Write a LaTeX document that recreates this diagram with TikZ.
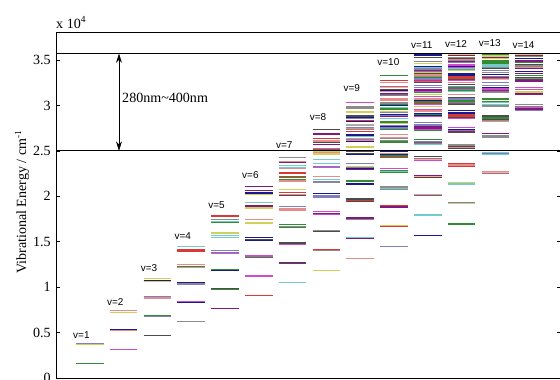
\documentclass[tikz,border=0pt]{standalone}
\usepackage{fontspec}
\setmainfont{Liberation Serif}
\setsansfont{Liberation Sans}
\usepackage{tikz}
\usetikzlibrary{arrows.meta,positioning,calc}

\definecolor{lc0}{rgb}{0.10,0.10,0.55}
\definecolor{lc1}{rgb}{0.85,0.22,0.22}
\definecolor{lc2}{rgb}{0.20,0.55,0.20}
\definecolor{lc3}{rgb}{0.45,0.80,0.80}
\definecolor{lc4}{rgb}{0.80,0.30,0.80}
\definecolor{lc5}{rgb}{0.82,0.82,0.35}
\definecolor{lc6}{rgb}{0.30,0.30,0.30}
\definecolor{lc7}{rgb}{0.90,0.55,0.55}
\definecolor{lc8}{rgb}{0.55,0.55,0.55}
\definecolor{lc9}{rgb}{0.50,0.50,0.75}
\definecolor{lc10}{rgb}{0.50,0.10,0.50}

\begin{document}
\begin{tikzpicture}[
        x=0.03cm, y=-0.03cm,
        level/.style={line width=1.1pt},
        frame/.style={line width=0.8pt},
        cut/.style={line width=1pt},
        tick/.style={line width=0.6pt},
        ticklabel/.style={anchor=east, inner sep=0pt, font=\fontsize{12}{14}\selectfont},
        vlabel/.style={anchor=base west, inner sep=0pt, font=\sffamily\fontsize{8.5}{10}\selectfont},
        arrow/.style={{Stealth[length=8pt,width=5pt]}-{Stealth[length=8pt,width=5pt]}, line width=0.6pt}
    ]
        \useasboundingbox (0,0) rectangle (560,379);
        \clip (0,0) rectangle (560,379);

        % Axes box and ticks
        \draw[frame] (56,32) rectangle (561,378);
        \foreach \t [count=\i] in {0,0.5,1,1.5,2,2.5,3,3.5}{
            \draw[tick] (56,{378-90.86*\t}) -- ++(4,0);
            \draw[tick] (561,{378-90.86*\t}) -- ++(-4,0);
            \node[ticklabel] (yt\i) at (51,{378-90.86*\t}) {\t};
        }
        \node[anchor=base west, inner sep=0pt, font=\fontsize{12}{14}\selectfont] (expo) at (56,28) {x 10\textsuperscript{4}};
        \node[rotate=90, font=\fontsize{12}{14}\selectfont] (ylab) at (22,202) {Vibrational Energy / cm\textsuperscript{-1}};

        % Vibrational levels (n1, n2, n3 quanta, v = n1+n2+n3)
        \foreach \v in {1,...,14}{
            \pgfmathsetmacro\xl{76+33.8*(\v-1)}
            \pgfmathsetmacro\lo{\v==13 ? 2.2 : (\v==14 ? 2.85 : 0)}
            \foreach \nA in {0,...,\v}{
                \pgfmathtruncatemacro\rest{\v-\nA}
                \foreach \nC in {0,...,\rest}{
                    \pgfmathtruncatemacro\nB{\rest-\nC}
                    \pgfmathsetmacro\E{0.36562*\nA+0.15968*\nB+0.37543*\nC-0.00426*(\nA*\nA-\nA)-0.00168*(\nB*\nB-\nB)-0.00476*(\nC*\nC-\nC)-0.00159*\nA*\nB-0.01658*\nA*\nC-0.00203*\nB*\nC}
                    \pgfmathtruncatemacro\k{mod(3*\nA*\nA+7*\nC+\nA*\nC+2*\v,11)}
                    \ifdim\E pt<3.5714pt\ifdim\E pt>\lo pt
                        \draw[level, lc\k] (\xl,{378-90.86*\E}) -- ++(27.5,0);
                    \fi\fi
                }
            }
        }

        % Labels v=1 ... v=14
        \foreach \v/\top in {1/345,2/312,3/278,4/246,5/215,6/185,7/155,8/127,9/98,10/72,11/55,12/54,13/53,14/55}{
            \node[vlabel] (v\v) at ({73+33.8*(\v-1)},{\top-7}) {v=\v};
        }

        % 280nm - 400nm window
        \coordinate (hiL) at (56,{378-90.86*3.5714});
        \coordinate (hiR) at (561,{378-90.86*3.5714});
        \coordinate (loL) at (56,{378-90.86*2.5});
        \coordinate (loR) at (561,{378-90.86*2.5});
        \draw[cut] (hiL) -- (hiR);
        \draw[cut] (loL) -- (loR);
        \coordinate (hiA) at (119,{378-90.86*3.5714});
        \coordinate (loA) at (119,{378-90.86*2.5});
        \draw[arrow] (hiA) -- (loA);
        \node[anchor=west, inner sep=0pt, font=\fontsize{12}{14}\selectfont] (band) at (122,98) {280nm\textasciitilde 400nm};
    \end{tikzpicture}
\end{document}
